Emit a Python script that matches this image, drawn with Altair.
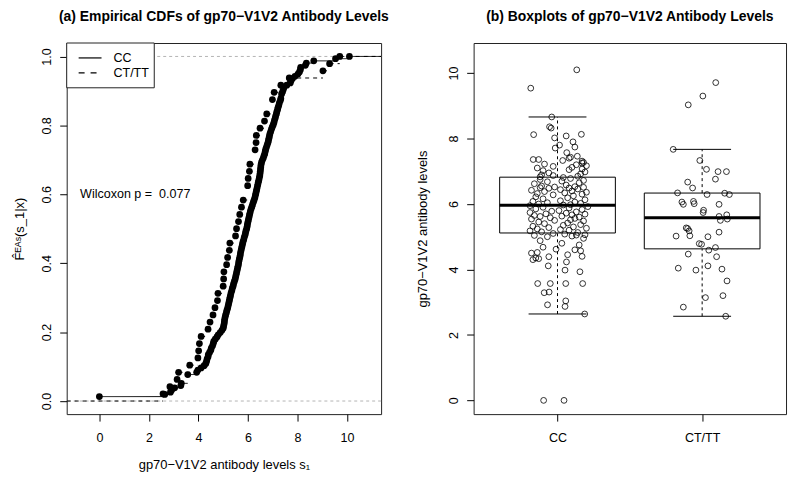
import altair as alt
import pandas as pd
import numpy as np

groups = ["CC", "CT/TT"]

cc_values = [
    0.00, 0.00, 2.64, 2.87, 2.92, 3.04, 3.29, 3.31, 3.57, 3.57, 3.57, 3.57, 3.93, 3.98, 4.11, 4.23,
    4.30, 4.33, 4.35, 4.39, 4.40, 4.45, 4.50, 4.52, 4.57, 4.60, 4.62,
    4.68, 4.75, 4.80, 4.88,
    4.95, 5.00, 5.02, 5.04, 5.05, 5.06, 5.08, 5.10,
    5.13, 5.15, 5.18, 5.20, 5.22, 5.24, 5.26,
    5.28, 5.30, 5.32, 5.35, 5.37, 5.40, 5.42, 5.45, 5.48, 5.50, 5.52, 5.54, 5.56, 5.58,
    5.60, 5.62, 5.63, 5.65, 5.67, 5.69, 5.70, 5.72, 5.74, 5.76, 5.78, 5.80, 5.83, 5.85, 5.88, 5.90, 5.92, 5.95,
    5.97, 5.98, 6.00, 6.02, 6.04, 6.06, 6.08, 6.10, 6.13, 6.16, 6.19, 6.22, 6.25,
    6.28, 6.30, 6.32, 6.34, 6.36, 6.38, 6.40, 6.42, 6.44, 6.46, 6.48, 6.49, 6.50, 6.51, 6.52, 6.53,
    6.55, 6.58, 6.62, 6.65, 6.68, 6.70, 6.72, 6.75, 6.78, 6.81,
    6.83, 6.85, 6.87, 6.89, 6.92,
    6.95, 6.98, 7.02, 7.05, 7.07, 7.10, 7.12, 7.15, 7.17, 7.20, 7.22, 7.25, 7.27,
    7.31, 7.33, 7.36, 7.36, 7.40, 7.43, 7.46, 7.57,
    7.71, 7.74, 7.80, 7.90,
    8.02, 8.08, 8.12, 8.13, 8.32, 8.36, 8.66, 9.54, 10.10,
]
cc_jitter = [
    -0.096, 0.045, 0.188, 0.052, -0.069, 0.057, -0.092, -0.058, -0.137, -0.05, 0.057, 0.174, 0.155, 0.052, -0.064, 0.062,
    -0.17, -0.13, -0.15, -0.06, 0.17, 0.07, -0.18, -0.14, 0.16, 0.12, -0.01,
    -0.10, 0.15, 0.03, -0.12,
    0.18, -0.07, 0.10, -0.16, 0.13, 0.19, 0.05, -0.03,
    0.14, -0.11, -0.19, 0.08, 0.02, -0.14, 0.20,
    -0.06, 0.11, -0.17, 0.04, 0.16, -0.09, 0.07, -0.13, 0.18, -0.02, 0.09, -0.18, 0.12, -0.05,
    0.15, -0.12, 0.03, -0.16, 0.10, 0.19, -0.08, 0.06, -0.19, 0.13, -0.04, 0.01, 0.17, -0.15, 0.08, -0.10, 0.21, -0.19,
    0.04, 0.09, -0.13, 0.16, -0.07, 0.12, -0.17, 0.02, 0.19, -0.10, 0.07, -0.15, 0.11,
    -0.03, 0.17, -0.14, 0.05, 0.20, -0.09, 0.10, -0.18, 0.02, 0.14, -0.06, 0.08, -0.12, 0.18, -0.02, 0.12,
    -0.11, 0.06, -0.16, 0.15, -0.07, 0.03, 0.18, -0.12, 0.09, 0.04,
    -0.12, 0.14, -0.03, -0.11, 0.16,
    -0.06, 0.19, -0.10, 0.08, 0.17, -0.14, 0.10, -0.03, 0.20, 0.13, -0.09, 0.17, 0.18,
    0.17, 0.036, -0.168, -0.13, 0.08, 0.09, 0.137, 0.064,
    -0.016, 0.12, 0.014, 0.107,
    -0.02, 0.06, -0.165, 0.165, -0.044, -0.055, -0.04, -0.185, 0.133,
]

ct_values = [
    9.71, 9.30, 9.03, 7.67, 7.33, 7.06, 6.99, 6.99, 6.76, 6.67, 6.49, 6.34, 6.29, 6.33, 6.29, 6.06,
    5.99, 6.08, 6.01, 5.99, 5.81, 5.74, 5.62, 5.67, 5.50, 5.54, 5.27, 5.25, 5.18, 5.02, 5.03, 5.00,
    5.14, 4.79, 4.77, 4.59, 4.67, 4.47, 4.39, 4.04, 3.98, 4.11, 4.01, 3.65, 3.14, 3.20, 2.85, 2.57,
]
ct_jitter = [
    0.094, 0.005, -0.096, -0.20, -0.016, 0.03, 0.11, 0.168, 0.092, -0.10, -0.066, -0.17, 0.034, 0.156, 0.188, -0.14,
    -0.13, -0.06, -0.055, 0.117, 0.01, 0.007, 0.117, 0.17, 0.126, 0.174, -0.11, -0.10, -0.09, -0.18, -0.085, 0.04,
    0.117, -0.02, -0.004, 0.046, 0.092, -0.096, 0.10, -0.165, -0.043, 0.04, 0.137, 0.172, 0.023, 0.144, -0.13, 0.163,
]

x_ticks_left = [0, 2, 4, 6, 8, 10]
y_ticks_left = [0.0, 0.2, 0.4, 0.6, 0.8, 1.0]
y_ticks_right = [0, 2, 4, 6, 8, 10]
wilcoxon_text = "Wilcoxon p = \u00a00.077"
title_a = "(a) Empirical CDFs of gp70\u2212V1V2 Antibody Levels"
title_b = "(b) Boxplots of gp70\u2212V1V2 Antibody Levels"

XL = [-1.32, 11.38]
YL = [-0.038, 1.039]
XR = [0.42, 2.58]
YR = [-0.42, 10.92]

FONT = "Liberation Sans"
W1, W2, H = 316, 314, 373

series = {"CC": cc_values, "CT/TT": ct_values}
jitters = {"CC": cc_jitter, "CT/TT": ct_jitter}

# ---- ECDF tables ----
pts_rows, seg_rows = [], []
for g in groups:
    v = np.sort(np.array(series[g], dtype=float))
    n = len(v)
    u, c = np.unique(v, return_counts=True)
    F = np.cumsum(c) / n
    for xi, fi in zip(u, F):
        pts_rows.append({"group": g, "x": xi, "F": fi})
    for i in range(len(u) - 1):
        seg_rows.append({"group": g, "x": u[i], "x2": u[i + 1], "F": F[i]})
    seg_rows.append({"group": g, "x": u[-1], "x2": XL[1], "F": 1.0})
    if u[0] > 0:
        seg_rows.append({"group": g, "x": XL[0], "x2": u[0], "F": 0.0})
ecdf_pts = pd.DataFrame(pts_rows)
ecdf_seg = pd.DataFrame(seg_rows)

# ---- boxplot stats (R fivenum / boxplot.stats) ----
def fivenum(x):
    x = np.sort(np.asarray(x, dtype=float))
    n = len(x)
    n4 = np.floor((n + 3) / 2) / 2
    d = np.array([1, n4, (n + 1) / 2, n + 1 - n4, n])
    return 0.5 * (x[np.floor(d).astype(int) - 1] + x[np.ceil(d).astype(int) - 1])

box_rows, pt_rows = [], []
for i, g in enumerate(groups):
    pos = i + 1
    x = np.array(series[g], dtype=float)
    s = fivenum(x)
    iqr = s[3] - s[1]
    inside = x[(x >= s[1] - 1.5 * iqr) & (x <= s[3] + 1.5 * iqr)]
    box_rows.append({"group": g, "pos": pos, "left": pos - 0.4, "right": pos + 0.4,
                     "capl": pos - 0.2, "capr": pos + 0.2,
                     "lo": inside.min(), "q1": s[1], "med": s[2], "q3": s[3], "hi": inside.max()})
    for val, jt in zip(series[g], jitters[g]):
        pt_rows.append({"group": g, "xp": pos + jt, "val": val})
box_df = pd.DataFrame(box_rows)
bpts = pd.DataFrame(pt_rows)

one = pd.DataFrame({"label": [wilcoxon_text]})
ref_lines = pd.DataFrame({"y": [0.0, 1.0]})

# ---- left panel ----
sxl = alt.Scale(domain=XL, nice=False, zero=False)
syl = alt.Scale(domain=YL, nice=False, zero=False)
ax_xl = alt.Axis(values=x_ticks_left, format="d", title="gp70\u2212V1V2 antibody levels s\u2081",
                 labelPadding=11, titleX=W1 / 2, titleY=51, titleBaseline="middle", titleAlign="center")
ax_yl = alt.Axis(values=y_ticks_left, format=".1f", title="F\u0302\u1D31\u1D2C\u02E2(s_1|x)",
                 labelAngle=-90, labelPadding=6, titleX=-47, titleY=H / 2, titleAngle=-90,
                 titleBaseline="middle", titleAlign="center")

def XLq(f):
    return alt.X(f, type="quantitative", scale=sxl, axis=ax_xl)

def YLq(f):
    return alt.Y(f, type="quantitative", scale=syl, axis=ax_yl)

dash_scale = alt.Scale(domain=groups, range=[[1, 0], [4, 4]])

gray = alt.Chart(ref_lines).mark_rule(color="#b3b3b3", strokeDash=[3, 3], strokeWidth=1).encode(y=YLq("y"))
segs = alt.Chart(ecdf_seg).mark_rule(color="black", strokeWidth=1, clip=True).encode(
    x=XLq("x"), x2="x2", y=YLq("F"),
    strokeDash=alt.StrokeDash("group:N", scale=dash_scale, legend=None))
dots = alt.Chart(ecdf_pts).mark_circle(color="black", size=46, opacity=1).encode(x=XLq("x"), y=YLq("F"))
wtext = alt.Chart(one).mark_text(align="left", baseline="middle", font=FONT, fontSize=12.6, color="black").encode(
    x=alt.datum(-0.78, scale=sxl), y=alt.datum(0.6, scale=syl), text="label:N")

leg_df = pd.DataFrame({"label": groups})
leg_box = alt.Chart(one).mark_rect(fill="white", stroke="#222", strokeWidth=1).encode(
    x=alt.value(0), x2=alt.value(88), y=alt.value(0), y2=alt.value(45))
leg_l1 = alt.Chart(one).mark_rule(color="black", strokeWidth=1.2).encode(
    x=alt.value(12), x2=alt.value(35), y=alt.value(15))
leg_l2 = alt.Chart(one).mark_rule(color="black", strokeWidth=1.2, strokeDash=[6, 6]).encode(
    x=alt.value(12), x2=alt.value(35), y=alt.value(30))
leg_t1 = alt.Chart(leg_df.iloc[[0]]).mark_text(align="left", baseline="middle", font=FONT, fontSize=12.6,
                                               color="black").encode(x=alt.value(47), y=alt.value(15), text="label:N")
leg_t2 = alt.Chart(leg_df.iloc[[1]]).mark_text(align="left", baseline="middle", font=FONT, fontSize=12.6,
                                               color="black").encode(x=alt.value(47), y=alt.value(30), text="label:N")

left = alt.layer(gray, segs, dots, wtext, leg_box, leg_l1, leg_l2, leg_t1, leg_t2).properties(
    width=W1, height=H, title=alt.Title(title_a, offset=19))

# ---- right panel ----
sxr = alt.Scale(domain=XR, nice=False, zero=False)
syr = alt.Scale(domain=YR, nice=False, zero=False)
ax_xr = alt.Axis(values=[1, 2], labelExpr="datum.value == 1 ? 'CC' : 'CT/TT'", title=None, labelPadding=11)
ax_yr = alt.Axis(values=y_ticks_right, format="d", title="gp70\u2212V1V2 antibody levels",
                 labelAngle=-90, labelPadding=6, titleX=-51, titleY=H / 2, titleAngle=-90,
                 titleBaseline="middle", titleAlign="center")

def XRq(f):
    return alt.X(f, type="quantitative", scale=sxr, axis=ax_xr)

def YRq(f):
    return alt.Y(f, type="quantitative", scale=syr, axis=ax_yr)

base_b = alt.Chart(box_df)
boxes = base_b.mark_rect(fill="white", stroke="black", strokeWidth=1).encode(
    x=XRq("left"), x2="right", y=YRq("q1"), y2="q3")
wh_hi = base_b.mark_rule(color="black", strokeWidth=1, strokeDash=[3, 3]).encode(x=XRq("pos"), y=YRq("q3"), y2="hi")
wh_lo = base_b.mark_rule(color="black", strokeWidth=1, strokeDash=[3, 3]).encode(x=XRq("pos"), y=YRq("lo"), y2="q1")
cap_hi = base_b.mark_rule(color="black", strokeWidth=1).encode(x=XRq("capl"), x2="capr", y=YRq("hi"))
cap_lo = base_b.mark_rule(color="black", strokeWidth=1).encode(x=XRq("capl"), x2="capr", y=YRq("lo"))
meds = base_b.mark_rule(color="black", strokeWidth=3).encode(x=XRq("left"), x2="right", y=YRq("med"))
bp = alt.Chart(bpts).mark_point(shape="circle", filled=False, color="black", size=34, strokeWidth=0.8,
                                opacity=1).encode(x=XRq("xp"), y=YRq("val"))

right = alt.layer(boxes, wh_hi, wh_lo, cap_hi, cap_lo, meds, bp).properties(
    width=W2, height=H, title=alt.Title(title_b, offset=19))

chart = alt.hconcat(left, right, spacing=93, bounds="flush").properties(
    padding={"left": 5, "top": 0, "right": 5, "bottom": 0}
).configure_view(stroke="#222", strokeWidth=1).configure_axis(
    domain=False, grid=False, tickColor="black", tickSize=7, tickWidth=1,
    labelColor="black", titleColor="black", labelFont=FONT, titleFont=FONT,
    labelFontSize=12.6, titleFontSize=13, titleFontWeight="normal"
).configure_title(font=FONT, fontSize=14, fontWeight="bold", color="black", anchor="middle")

chart.save("out.html", embed_options={"renderer": "svg", "actions": False})
